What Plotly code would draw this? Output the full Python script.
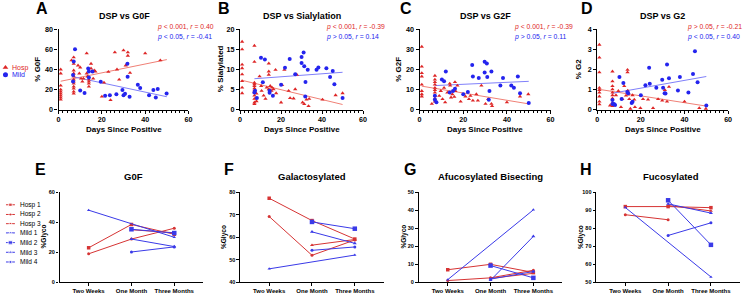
import plotly.graph_objects as go

FONT = "Liberation Sans"
RED = "rgb(222,38,38)"
BLUE = "rgb(36,36,238)"
RED_FIT = "rgb(240,128,118)"
BLUE_FIT = "rgb(128,128,250)"
LRED = "rgb(214,52,52)"
LBLUE = "rgb(58,58,232)"
W, H = 748, 299

# ---------------- data: top row (days since positive vs % glycan) ----------------
g0f_hosp = [(1,40),(1,36),(1,24),(1,20),(1,18),(1,16),(1,14),(1,12),(1,10),
            (6,49),(7,52),(7,45.6),(7,39),(7,36),(7,33),(7,30),(7,28),(7,26),(7,23),(7,21),(7,18),(7,16),
            (9,44),(9.6,36),(10,42),(10.4,31),(11,28),(11.5,31),
            (13,56),(13,36),(13.4,33),(14,30),(14,26),(14,23),(14,28),
            (15,45.7),(15,41),(16,31),(16.5,39),(17,38),
            (20,13),(21,27),(23,37.6),(24,9.5),(26,57),(27,40),(28,30),(30,59),(31,44),(32,57),(32,53.7),(33,36.7),(40,56),(47,49)]
g0f_mild = [(7.6,60),(7,48),(6.7,34.4),(6.7,28),(10,19),(12,16.5),(13.7,41),(14,38),(15.7,38),(14,32),
            (19.5,27.7),(21.5,14),(23.7,14.5),(26.7,15.4),(29.5,19.6),(30,14.5),(30.7,15.8),(31.8,45.7),
            (31.9,32.8),(32.8,12.9),(36.6,24.8),(37.7,21.5),(41.8,14.5),(43.8,19.6),(44.9,12.2),(45.8,20.6),(49.9,16)]
g0f_fit_hosp = [(1,28.3),(50,49.8)]
g0f_fit_mild = [(6.7,32.8),(50,12.9)]

sia_hosp = [(1,16.9),(1,15),(1,11.2),(1,10.3),(1,8.8),(1,7.1),(1,5.5),(1,4.1),
            (7,15.9),(7,11.9),(7,6.7),(7,6.3),(7,5.9),(7,5.3),(7,4.8),(7,4.3),(7,3.5),(7,2.7),(7,1.8),(7,1.4),
            (8,2.1),(8,4.0),(9.5,8.3),(10.3,5.9),(10.5,4.7),(11.5,3.5),(12.4,2.7),(13,5.5),(14,11.5),(14,9.5),
            (14,8.7),(14,5.1),(14.7,5.9),(15.3,4.7),(15.6,5.5),(16.3,5.1),(17.3,9.9),(17.6,4.1),(20,1.8),(20.5,6.1),
            (21.6,9.9),(23.7,4.7),(24.4,2.9),(26.1,2.8),(26.9,5.1),(27.7,8.7),(30.5,1.8),(31.3,1.4),(32.4,2.5),
            (33.4,0.9),(33.7,2.7),(40.2,2.5),(46.6,3.6),(50,4.1)]
sia_mild = [(7.3,4.7),(7,4.3),(8.2,2.9),(10.2,12.9),(12.1,12.5),(11.1,6.8),(14.4,4.7),(14.4,4.2),(16,3.5),
            (20,6.2),(21.9,10.4),(24.2,12.6),(26.9,8.8),(30,13.1),(30,11.6),(31,14.2),(31.3,10.8),(31.9,6.9),
            (31.8,3.3),(33,9.9),(37.3,9.9),(38.2,10.5),(42.1,10.3),(43.9,8.1),(45.2,9.6),(46,6.3),(50,2.9)]
sia_fit_hosp = [(1,7.3),(50,1.3)]
sia_fit_mild = [(7,7.7),(50,9.3)]

g2f_hosp = [(1,31.3),(1,21.4),(1,18.2),(1,16.5),(1,12.5),(1,9.3),(1,7.7),(1,6.6),
            (7,16.9),(7,15),(7,13.7),(7,12.5),(7,10.9),(7,9.8),(7,8.5),(7,6.9),(7,5.6),(7,4),
            (5.6,2.9),(9,6.9),(9.7,9.3),(10.5,5.3),(11.2,10.9),(11.7,3.7),(12.7,8.5),(13.8,13),(14,12),
            (14.4,6.1),(15,7.7),(15.9,6.4),(16.2,13.7),(16.4,9.3),(17.3,12),(18.8,4),(21,6.6),(22.6,5.3),
            (23.3,6.9),(24.4,4.5),(26,7.7),(26.7,4.5),(28.3,12),(30.2,2.9),(31.4,5.3),(32.9,2.9),(33.2,1.8),
            (40,3.7),(46,6.6),(49.8,7.7)]
g2f_mild = [(7,6.9),(7,5),(7.7,3.7),(10.2,15),(11.2,14.1),(12,19),(13.8,8.5),(15.3,9.3),(16.2,10.4),
            (20,7.7),(22.1,8.8),(24.1,22.2),(24.4,16.5),(27.1,15.7),(29.8,23.8),(30.8,23),(29.8,18.5),
            (31,16.2),(32,9.3),(31.7,5),(32.9,19),(37,12),(38.2,15.7),(42,12),(43.2,10.9),(45,16.5),(46,8.2),(50,3.4)]
g2f_fit_hosp = [(1,11.7),(50,2.9)]
g2f_fit_mild = [(7,12),(50,14.1)]

g2_hosp = [(1,3.23),(1,2.59),(1,1.86),(1,1.09),(1,0.98),(1,0.85),(1,0.66),(1,0.4),(1,0.27),
           (7,1.9),(7,1.41),(7,1.17),(7,1.01),(7,0.85),(7,0.72),(7,0.56),(7,0.34),(7,0.18),
           (5.9,0.21),(8.6,0.72),(9.7,0.93),(10.9,0.13),(11.5,0.53),(12.4,1.17),(13.2,0.7),(13.9,1.98),
           (13.9,1.86),(14,0.95),(14.2,0.75),(14.7,0.53),(15.2,0.05),(16.2,0.72),(17,0.5),(17.3,0.13),
           (19.8,0.08),(21,0.53),(23.3,0.5),(25.6,0.08),(27.9,0.53),(29.8,0.45),(31,0.98),(32,0.4),
           (32.9,1.14),(40,0.4),(46.8,0.08),(49.8,0.05)]
g2_mild = [(7,0.48),(7,0.29),(7.7,0.29),(8.2,0.24),(10.2,1.62),(11.2,0.53),(12,1.33),(13.8,0.88),(14.2,0.82),
           (15.8,0.34),(16.2,0.4),(20,0.72),(22.1,1.22),(23.8,2.09),(24.1,1.29),(27.1,1.09),(29.8,1.49),
           (30.2,1.09),(30.9,0.82),(31.3,0.8),(32,2.25),(32.9,1.56),(37,0.96),(37.9,1.62),(41.8,0.85),
           (43.9,1.77),(44.8,2.91),(46,1.37),(50,0.21)]
g2_fit_hosp = [(1,1.01),(50,0.18)]
g2_fit_mild = [(7,0.82),(50,1.65)]

# ---------------- data: bottom row (longitudinal) ----------------
timepoints = ["Two Weeks", "One Month", "Three Months"]
patients = ["Hosp 1", "Hosp 2", "Hosp 3", "Mild 1", "Mild 2", "Mild 3", "Mild 4"]
g0f_long = [[23, 38.5, 32], [19, 28.8, 36], [None, 35, 33], [48, None, 30],
            [None, 35.3, 32.8], [None, 28.8, 23.8], [None, 20.2, 23.6]]
gal_long = [[77.3, 67.4, 59.2], [69.2, 52, 58.8], [None, 56.5, 59.0], [46, None, 52.1],
            [None, 66.8, 63.8], [None, 62.4, 57.3], [None, 54.2, 55.7]]
afb_long = [[7, 10, 5.5], [1, 2.5, 6.7], [None, 2.2, 5], [1.5, None, 40.2],
            [None, 9.3, 2.5], [None, 1.2, 25.5], [None, 1.8, 6]]
fuc_long = [[92, 92, 91.4], [87.5, 84.7, None], [None, 92.6, 89.6], [91.5, None, 53],
            [None, 95.5, 70.8], [None, 93.5, 88.4], [None, 76, 83]]

# ---------------- styling ----------------
def px(x): return x / W
def py(y): return 1 - y / H

top_panels = [
    dict(hosp=g0f_hosp, mild=g0f_mild, fh=g0f_fit_hosp, fm=g0f_fit_mild, xd=(57, 188), yr=(0, 80), dt=20,
         title="DSP vs G0F", letter="A", ylab="% G0F", lx=40, tx=123, ylx=36, sx=154,
         s1="<i>p</i> < 0.001, <i>r</i> = 0.40", s2="<i>p</i> < 0.05, <i>r</i> = -0.41"),
    dict(hosp=sia_hosp, mild=sia_mild, fh=sia_fit_hosp, fm=sia_fit_mild, xd=(240, 364), yr=(0, 20), dt=5,
         title="DSP vs Sialylation", letter="B", ylab="% Sialylated", lx=224, tx=302, ylx=221, sx=325,
         s1="<i>p</i> < 0.001, <i>r</i> = -0.39", s2="<i>p</i> > 0.05, <i>r</i> = 0.14"),
    dict(hosp=g2f_hosp, mild=g2f_mild, fh=g2f_fit_hosp, fm=g2f_fit_mild, xd=(421, 553), yr=(0, 40), dt=10,
         title="DSP vs G2F", letter="C", ylab="% G2F", lx=407, tx=487, ylx=400, sx=514,
         s1="<i>p</i> < 0.001, <i>r</i> = -0.39", s2="<i>p</i> > 0.05, <i>r</i> = 0.11"),
    dict(hosp=g2_hosp, mild=g2_mild, fh=g2_fit_hosp, fm=g2_fit_mild, xd=(600, 732), yr=(0, 4), dt=1,
         title="DSP vs G2", letter="D", ylab="% G2", lx=590, tx=666, ylx=582, sx=689,
         s1="<i>p</i> > 0.05, <i>r</i> = -0.21", s2="<i>p</i> < 0.05, <i>r</i> = 0.40"),
]
bottom_panels = [
    dict(vals=g0f_long, xd=(58, 203), yr=(0, 60), dt=20, title="G0F", letter="E", lx=39, tx=133, ylx=42),
    dict(vals=gal_long, xd=(240, 385), yr=(40, 80), dt=10, title="Galactosylated", letter="F", lx=229, tx=313, ylx=224),
    dict(vals=afb_long, xd=(420, 565), yr=(0, 50), dt=10, title="Afucosylated Bisecting", letter="G", lx=411, tx=492, ylx=405),
    dict(vals=fuc_long, xd=(599, 744), yr=(50, 100), dt=10, title="Fucosylated", letter="H", lx=589, tx=674, ylx=583),
]
pat_colors = [LRED, LRED, LRED, LBLUE, LBLUE, LBLUE, LBLUE]
pat_symbols = ["square", "circle", "triangle-up", "triangle-up", "square", "triangle-up", "circle"]
pat_sizes = [3.5, 3, 3.5, 3, 4.5, 3.5, 3]

fig = go.Figure()
layout = dict(width=W, height=H, margin=dict(l=0, r=0, t=0, b=0), showlegend=False,
              plot_bgcolor="white", paper_bgcolor="white", annotations=[])
ann = layout["annotations"]

def axkey(kind, n):
    return kind + ("" if n == 1 else str(n))

def add_text(text, x, y, size, color="black", bold=True, xanchor="center", angle=0, xref="paper", yref="paper"):
    ann.append(dict(text=text, x=x, y=y, xref=xref, yref=yref, showarrow=False, textangle=angle,
                    xanchor=xanchor, yanchor="middle",
                    font=dict(family=FONT, size=size, color=color, weight="bold" if bold else "normal")))

top_y = (26, 109)
for i, p in enumerate(top_panels):
    n = i + 1
    xa, ya = "x" + ("" if n == 1 else str(n)), "y" + ("" if n == 1 else str(n))
    hx = [a for a, b in p["hosp"]]; hy = [b for a, b in p["hosp"]]
    mx = [a for a, b in p["mild"]]; my = [b for a, b in p["mild"]]
    fig.add_trace(go.Scatter(x=[a for a, b in p["fh"]], y=[b for a, b in p["fh"]], mode="lines",
                             line=dict(color=RED_FIT, width=1), xaxis=xa, yaxis=ya))
    fig.add_trace(go.Scatter(x=[a for a, b in p["fm"]], y=[b for a, b in p["fm"]], mode="lines",
                             line=dict(color=BLUE_FIT, width=1), xaxis=xa, yaxis=ya))
    fig.add_trace(go.Scatter(x=hx, y=hy, mode="markers", cliponaxis=False,
                             marker=dict(symbol="triangle-up", size=3.8, color=RED), xaxis=xa, yaxis=ya))
    fig.add_trace(go.Scatter(x=mx, y=my, mode="markers", cliponaxis=False,
                             marker=dict(symbol="circle", size=4, color=BLUE), xaxis=xa, yaxis=ya))
    layout[axkey("xaxis", n)] = dict(domain=[px(p["xd"][0]), px(p["xd"][1])], range=[0, 60], anchor=ya,
                                     tick0=0, dtick=20, ticks="outside", ticklen=3, tickwidth=1, tickcolor="black",
                                     showline=True, linecolor="black", linewidth=1.2, showgrid=False, zeroline=False,
                                     tickfont=dict(family=FONT, size=7.2, color="black", weight="bold"),
                                     minor=dict(tick0=0, dtick=2, ticks="outside", ticklen=2, tickwidth=0.8,
                                                tickcolor="black", showgrid=False))
    layout[axkey("yaxis", n)] = dict(domain=[py(top_y[1]), py(top_y[0])], range=list(p["yr"]), anchor=xa,
                                     tick0=0, dtick=p["dt"], ticks="outside", ticklen=3, tickwidth=1, tickcolor="black",
                                     showline=True, linecolor="black", linewidth=1.2, showgrid=False, zeroline=False,
                                     tickfont=dict(family=FONT, size=7.2, color="black", weight="bold"))
    add_text(p["letter"], px(p["lx"]), py(5), 16)
    add_text(p["title"], px(p["tx"]), py(12), 9)
    add_text("Days Since Positive", px((p["xd"][0] + p["xd"][1]) / 2), py(129), 8)
    add_text(p["ylab"], px(p["ylx"]), py(67), 8, angle=-90)
    add_text(p["s1"], px(p["sx"]), py(24), 6.8, color=RED, bold=False, xanchor="left")
    add_text(p["s2"], px(p["sx"]), py(34), 6.8, color=BLUE, bold=False, xanchor="left")

bot_y = (194, 287)
for i, p in enumerate(bottom_panels):
    n = i + 5
    xa, ya = "x" + str(n), "y" + str(n)
    for k, name in enumerate(patients):
        fig.add_trace(go.Scatter(x=timepoints, y=p["vals"][k], mode="lines+markers", connectgaps=True,
                                 cliponaxis=False, name=name,
                                 line=dict(color=pat_colors[k], width=1),
                                 marker=dict(symbol=pat_symbols[k], size=pat_sizes[k], color=pat_colors[k]),
                                 xaxis=xa, yaxis=ya))
    layout[axkey("xaxis", n)] = dict(domain=[px(p["xd"][0]), px(p["xd"][1])], type="category",
                                     categoryorder="array", categoryarray=timepoints,
                                     range=[-0.68, 2.68], anchor=ya, ticks="outside", ticklen=2.5, tickwidth=1,
                                     tickcolor="black", showline=True, linecolor="black", linewidth=1.2,
                                     showgrid=False, zeroline=False,
                                     tickfont=dict(family=FONT, size=6, color="black", weight="bold"))
    layout[axkey("yaxis", n)] = dict(domain=[py(bot_y[1]), py(bot_y[0])], range=list(p["yr"]), anchor=xa,
                                     tick0=0, dtick=p["dt"], ticks="outside", ticklen=2.5, tickwidth=1,
                                     tickcolor="black", showline=True, linecolor="black", linewidth=1.2,
                                     showgrid=False, zeroline=False,
                                     tickfont=dict(family=FONT, size=5.5, color="black", weight="bold"))
    add_text(p["letter"], px(p["lx"]), py(171), 16)
    add_text(p["title"], px(p["tx"]), py(178), 9.5)
    add_text("%Glyco", px(p["ylx"]), py(240), 6.5, angle=-90)

# ---------------- custom legends (pixel-coordinate helper axis) ----------------
layout["xaxis9"] = dict(domain=[0, px(50)], range=[0, 50], visible=False, anchor="y9", fixedrange=True)
layout["yaxis9"] = dict(domain=[0, 1], range=[H, 0], visible=False, anchor="x9", fixedrange=True)
top_legend = [("Hosp", RED, "triangle-up", 65.5), ("Mild", BLUE, "circle", 73)]
for name, col, sym, yy in top_legend:
    fig.add_trace(go.Scatter(x=[3.5], y=[yy], mode="markers", marker=dict(symbol=sym, size=5, color=col),
                             xaxis="x9", yaxis="y9", cliponaxis=False))
    add_text(name, 8.5, yy, 7, color=col, bold=False, xanchor="left", xref="x9", yref="y9")
bottom_legend_y = [207, 217, 226.5, 236, 246, 256, 266]
for k, name in enumerate(patients):
    yy = bottom_legend_y[k]
    fig.add_trace(go.Scatter(x=[4, 8.5, 13], y=[yy, yy, yy], mode="lines+markers",
                             line=dict(color=pat_colors[k], width=1),
                             marker=dict(symbol=pat_symbols[k], size=[0, pat_sizes[k], 0], color=pat_colors[k]),
                             xaxis="x9", yaxis="y9", cliponaxis=False))
    add_text(name, 16, yy, 6.5, bold=False, xanchor="left", xref="x9", yref="y9")

fig.update_layout(**layout)
fig.write_html("out.html", config={"displayModeBar": False},
               post_script="document.body.style.margin='0';document.body.style.padding='0';document.body.style.overflow='hidden';")
